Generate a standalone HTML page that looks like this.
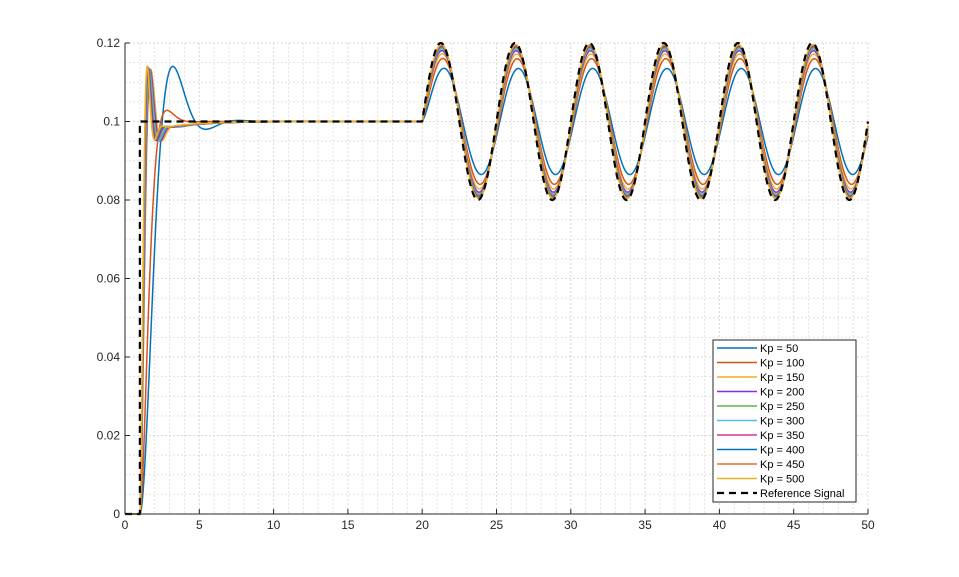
<!DOCTYPE html>
<html><head><meta charset="utf-8"><style>
body{margin:0;background:#fff;}
svg{display:block;font-family:"Liberation Sans",sans-serif;}
</style></head><body>
<svg id="s" width="959" height="577" xmlns="http://www.w3.org/2000/svg">
<rect width="959" height="577" fill="#fff"/>
<g id="grid"></g>
<g id="lines" fill="none" stroke-width="1.5" stroke-linejoin="round"></g>
<g id="axes"></g>
<g id="legend"></g>
</svg>
<script>
const X0=125,X1=868,Y0=514,Y1=43;
const px=t=>X0+(X1-X0)*t/50, py=v=>Y0-(Y0-Y1)*v/0.12;
const NS="http://www.w3.org/2000/svg";
function el(p,n,a,txt){const e=document.createElementNS(NS,n);for(const k in a)e.setAttribute(k,a[k]);if(txt!==undefined)e.textContent=txt;document.getElementById(p).appendChild(e);return e;}
for(let i=1;i<=50;i++){const x=px(i);el('grid','line',{x1:x,x2:x,y1:Y1,y2:Y0,stroke:i%5?'#e2e2e2':'#d8d8d8','stroke-dasharray':'2,2','stroke-width':1});}
for(let j=1;j<=24;j++){const y=py(j*0.005);el('grid','line',{x1:X0,x2:X1,y1:y,y2:y,stroke:j%4?'#e2e2e2':'#d8d8d8','stroke-dasharray':'2,2','stroke-width':1});}
const cols=['#0072BD','#D95319','#EDB120','#8B2BE2','#5DB34A','#4DBEEE','#D6339F','#0072BD','#E07030','#EDB120'];
const W=2*Math.PI/5;
function so(z,wn,tau){const wd=wn*Math.sqrt(1-z*z);return 1-Math.exp(-z*wn*tau)*(Math.cos(wd*tau)+z/Math.sqrt(1-z*z)*Math.sin(wd*tau));}
function resp(k,t){
  if(t<1)return 0;
  const tau=t-1;let y;
  if(k===0){y=0.1*so(0.53,1.67,tau);}
  else if(k===1){y=0.1*so(0.75,2.6,tau);}
  else{const wn=4.2+0.35*k;
    const f=so(0.5,wn,tau);
    const b=0.05-0.002*k;
    y=0.1*(f-b*Math.exp(-tau/2.2)*(1-Math.exp(-tau*4)));
  }
  if(t>=20){const A=[0.0135,0.016,0.0172,0.018,0.0185,0.0188,0.019,0.0192,0.0194,0.0196][k];
    const ph=[0.28,0.18,0.13,0.1,0.09,0.08,0.07,0.06,0.055,0.05][k];
    const s=t-20;y+=A*(Math.sin(W*s-ph)+Math.sin(ph)*Math.exp(-s/0.35));}
  return y;
}
function pts(f){let a=[];for(let t=0;t<=50.0001;t+=0.02)a.push(px(t).toFixed(2)+','+py(f(t)).toFixed(2));return a.join(' ');}
for(let k=0;k<10;k++)el('lines','polyline',{points:pts(t=>resp(k,t)),stroke:cols[k]});
function ref(t){if(t<1)return 0;if(t<20)return 0.1;return 0.1+0.02*Math.sin(W*(t-20));}
let rp=[px(0)+','+py(0),px(1)+','+py(0),px(1)+','+py(0.1)];
for(let t=1;t<=50.0001;t+=0.02)rp.push(px(t).toFixed(2)+','+py(ref(t)).toFixed(2));
el('lines','polyline',{points:rp.join(' '),stroke:'#000','stroke-width':2.2,'stroke-dasharray':'7,5'});
el('axes','line',{x1:X0,x2:X1,y1:Y0,y2:Y0,stroke:'#262626','stroke-width':1});
el('axes','line',{x1:X0,x2:X0,y1:Y1,y2:Y0,stroke:'#262626','stroke-width':1});
for(let i=0;i<=10;i++){const x=px(i*5);el('axes','line',{x1:x,x2:x,y1:Y0,y2:Y0-5,stroke:'#262626'});
  el('axes','text',{x:x,y:Y0+15,'font-size':12,'text-anchor':'middle',fill:'#262626'},String(i*5));}
const yl=['0','0.02','0.04','0.06','0.08','0.1','0.12'];
for(let j=0;j<=6;j++){const y=py(j*0.02);el('axes','line',{x1:X0,x2:X0+5,y1:y,y2:y,stroke:'#262626'});
  el('axes','text',{x:X0-5,y:y+4,'font-size':12,'text-anchor':'end',fill:'#262626'},yl[j]);}
el('legend','rect',{x:713,y:340,width:143,height:162,fill:'#fff',stroke:'#262626','stroke-width':1});
const names=['Kp = 50','Kp = 100','Kp = 150','Kp = 200','Kp = 250','Kp = 300','Kp = 350','Kp = 400','Kp = 450','Kp = 500','Reference Signal'];
for(let i=0;i<11;i++){const y=348+i*14.5;
  const a={x1:717,x2:757,y1:y,y2:y,stroke:i<10?cols[i]:'#000','stroke-width':i<10?1.5:2.2};
  if(i==10)a['stroke-dasharray']='7,5';
  el('legend','line',a);
  el('legend','text',{x:760,y:y+4,'font-size':11,fill:'#000'},names[i]);}
</script>
</body></html>
